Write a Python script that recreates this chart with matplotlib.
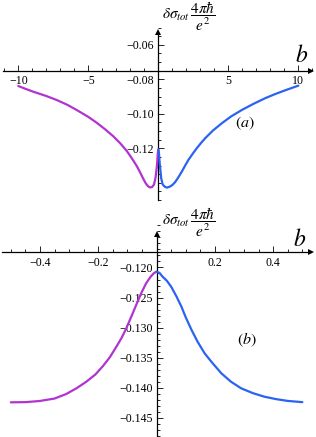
import matplotlib
matplotlib.use("Agg")
import matplotlib.pyplot as plt
from matplotlib.ticker import FixedLocator

plt.rcParams['font.family'] = ['Liberation Serif', 'DejaVu Serif']
plt.rcParams['mathtext.fontset'] = 'stix'

# ---- data ----
# panel (a)
a_left_b = [-10, -9.5, -8.93, -8, -7.26, -6.5, -5.83, -5, -4.4, -3.8, -3.21, -2.7, -2.26,
            -1.9, -1.54, -1.3, -1.07, -0.9, -0.75, -0.6, -0.45, -0.31, -0.2, -0.1, -0.04, 0]
a_left_v = [-0.0839, -0.0855, -0.0872, -0.0897, -0.0920, -0.0948, -0.0978, -0.1018,
            -0.1052, -0.1090, -0.1131, -0.1173, -0.1215, -0.1257, -0.1303, -0.1340,
            -0.1378, -0.1403, -0.1419, -0.1427, -0.1425, -0.1410, -0.1370, -0.1300,
            -0.1230, -0.1207]
a_right_b = [0, 0.04, 0.1, 0.2, 0.31, 0.45, 0.6, 0.8, 1.0, 1.19, 1.4, 1.67, 1.9, 2.14,
             2.45, 2.74, 3.04, 3.34, 3.9, 4.53, 5.2, 5.96, 6.8, 7.62, 8.3, 9.05, 10]
a_right_v = [-0.1207, -0.1225, -0.1290, -0.1372, -0.1410, -0.1422, -0.1428, -0.1423,
             -0.1413, -0.1397, -0.1372, -0.1336, -0.1302, -0.1268, -0.1232, -0.1200,
             -0.1170, -0.1142, -0.1097, -0.1055, -0.1015, -0.0978, -0.0942, -0.0910,
             -0.0887, -0.0864, -0.0837]
# panel (b)
b_left_b = [-0.5, -0.45, -0.401, -0.35, -0.31, -0.275, -0.241, -0.21, -0.184, -0.16,
            -0.138, -0.12, -0.104, -0.087, -0.07, -0.053, -0.036, -0.02, -0.008, 0]
b_left_v = [-0.14243, -0.1424, -0.14221, -0.1418, -0.14105, -0.1401, -0.1390, -0.1378,
            -0.1364, -0.1349, -0.13318, -0.1317, -0.13012, -0.1282, -0.12624, -0.1243,
            -0.12263, -0.1215, -0.1209, -0.1207]
b_right_b = [0, 0.01, 0.02, 0.035, 0.05, 0.068, 0.085, 0.1, 0.12, 0.14, 0.165, 0.19,
             0.222, 0.255, 0.29, 0.33, 0.37, 0.41, 0.45, 0.5]
b_right_v = [-0.1207, -0.1209, -0.1215, -0.1222, -0.1232, -0.1248, -0.1265, -0.1283,
             -0.1304, -0.1323, -0.1343, -0.1358, -0.1376, -0.1390, -0.1401, -0.1409,
             -0.1415, -0.1419, -0.1422, -0.1424]

a_xticks = [-10, -5, 5, 10]
a_yticks = [-0.06, -0.08, -0.10, -0.12]
a_yticklabels = ['−0.06', '−0.08', '−0.10', '−0.12']
b_xticks = [-0.4, -0.2, 0.2, 0.4]
b_yticks = [-0.120, -0.125, -0.130, -0.135, -0.140, -0.145]
b_yticklabels = ['−0.120', '−0.125', '−0.130', '−0.135', '−0.140', '−0.145']

MAG = '#b034d0'
BLU = '#2a62f2'

W, H = 316, 437
fig = plt.figure(figsize=(W / 100, H / 100), dpi=100)

ylab = r'$\delta\sigma_{tot}\,\dfrac{4\pi\hbar}{e^{2}}$'


def setup(ax, xlim, ylim, x0y, xb, yb, xticks, xminor, yticks, yticklabels, yminor,
          xfmt):
    ax.set_xlim(*xlim)
    ax.set_ylim(*ylim)
    ax.patch.set_alpha(0)
    for s in ['top', 'right']:
        ax.spines[s].set_visible(False)
    ax.spines['left'].set_position(('data', 0))
    ax.spines['bottom'].set_position(('data', x0y))
    ax.spines['left'].set_bounds(*yb)
    ax.spines['bottom'].set_bounds(*xb)
    for s in ['left', 'bottom']:
        ax.spines[s].set_linewidth(0.9)
        ax.spines[s].set_zorder(1)
    ax.set_xticks(xticks)
    ax.set_xticklabels([xfmt(t) for t in xticks])
    ax.xaxis.set_minor_locator(FixedLocator(xminor))
    ax.set_yticks(yticks)
    ax.set_yticklabels(yticklabels)
    ax.yaxis.set_minor_locator(FixedLocator(yminor))
    ax.tick_params(which='both', direction='in', width=0.6, labelsize=8.6, pad=3)
    ax.tick_params(which='major', length=4)
    ax.tick_params(which='minor', length=2)
    ax.plot([xb[1]], [x0y], marker='>', color='k', markersize=5, clip_on=False,
            markeredgewidth=0)
    ax.plot([0], [yb[1]], marker='^', color='k', markersize=5, clip_on=False,
            markeredgewidth=0)


# ---- panel (a) ----
ax1 = fig.add_axes([0, 1 - 212 / H, 1, 212 / H])
xminor_a = [v for v in range(-11, 12) if v not in (0, -10, -5, 5, 10)]
yminor_a = [-0.050 - 0.005 * i for i in range(21)]
setup(ax1, (-11.31, 11.26), (-0.15693, -0.03403), -0.0752, (-11.1, 10.9),
      (-0.150, -0.0525), a_xticks, xminor_a, a_yticks, a_yticklabels, yminor_a,
      lambda t: '−%d' % abs(t) if t < 0 else '%d' % t)
ax1.plot(a_left_b, a_left_v, color=MAG, lw=1.6, solid_capstyle='round')
ax1.plot(a_right_b, a_right_v, color=BLU, lw=1.6, solid_capstyle='round')
ax1.text(0.26, -0.0436, ylab, fontsize=11, ha='left', va='center')
ax1.text(10.2, -0.0665, r'$b$', fontsize=17, ha='center', va='center')
ax1.text(6.2, -0.1055, r'$(a)$', fontsize=11.5, ha='center', va='center')

# ---- panel (b) ----
ax2 = fig.add_axes([0, 0, 1, 225 / H])
xminor_b = [round(-0.55 + 0.05 * i, 2) for i in range(23)]
xminor_b = [v for v in xminor_b if abs(v) > 1e-9]
yminor_b = [round(-0.113 - 0.001 * i, 3) for i in range(36)]
setup(ax2, (-0.5372, 0.5468), (-0.14820, -0.11077), -0.1175, (-0.53, 0.528),
      (-0.1485, -0.1145), b_xticks, xminor_b, b_yticks, b_yticklabels, yminor_b,
      lambda t: ('−%.1f' % abs(t)) if t < 0 else '%.1f' % t)
ax2.plot(b_left_b, b_left_v, color=MAG, lw=1.6, solid_capstyle='round')
ax2.plot(b_right_b, b_right_v, color=BLU, lw=1.6, solid_capstyle='round')
ax2.text(0.0185, -0.11255, ylab, fontsize=11, ha='left', va='center')
ax2.text(0.49, -0.1155, r'$b$', fontsize=17, ha='center', va='center')
ax2.text(0.31, -0.1321, r'$(b)$', fontsize=11.5, ha='center', va='center')

fig.savefig('out.png', dpi=100)
